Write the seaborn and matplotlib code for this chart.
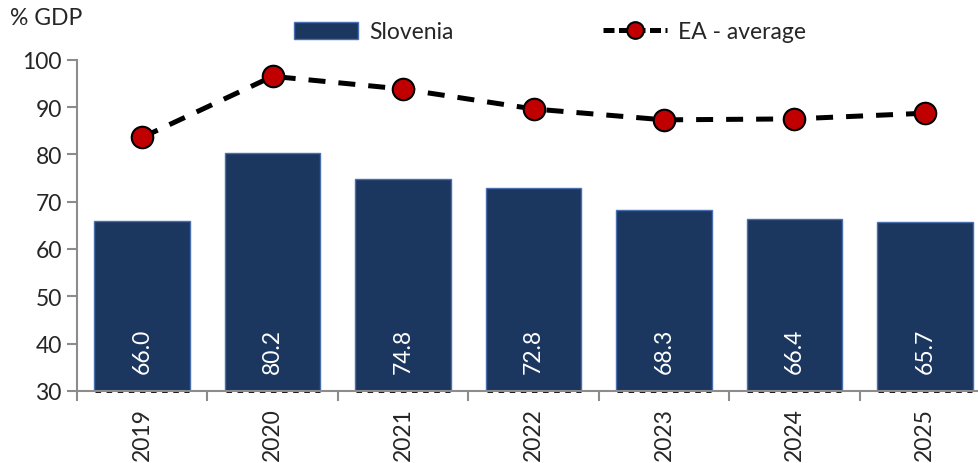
import matplotlib
matplotlib.use("Agg")
import matplotlib.pyplot as plt
import seaborn as sns
import pandas as pd
from matplotlib.patches import Patch
from matplotlib.lines import Line2D

# Data
years = ['2019', '2020', '2021', '2022', '2023', '2024', '2025']
slovenia = [66.0, 80.2, 74.8, 72.8, 68.3, 66.4, 65.7]
ea_average = [83.6, 96.5, 93.8, 89.6, 87.3, 87.5, 88.7]

df = pd.DataFrame({'year': years, 'Slovenia': slovenia, 'EA - average': ea_average})

sns.set_theme(style="white")
plt.rcParams['font.family'] = ['Lato', 'DejaVu Sans']

bar_color = '#1b365f'
red = '#c00000'
grey = '#8c8c8c'
fs = 16.5

fig = plt.figure(figsize=(9.79, 4.64), dpi=100)
ax = fig.add_axes([0.0787, 0.1556, 1.0113 - 0.0787, 0.869 - 0.1556])

sns.barplot(data=df, x='year', y='Slovenia', color=bar_color, width=0.733,
            edgecolor='#4a6fb0', linewidth=1.0, saturation=1, ax=ax, zorder=2)

sns.pointplot(data=df, x='year', y='EA - average', color='black',
              linestyles='--', markers='o', errorbar=None, ax=ax)
for ln in ax.lines:
    if len(ln.get_xdata()) == len(years):
        ln.set_linewidth(3.6)
        ln.set_dashes((3.4, 2.6))
        ln.set_marker('o')
        ln.set_markersize(15.5)
        ln.set_markerfacecolor(red)
        ln.set_markeredgecolor('black')
        ln.set_markeredgewidth(1.5)
        ln.set_zorder(4)

# value labels inside the bar bases
for i, v in enumerate(slovenia):
    ax.text(i, 38.5, f"{v:.1f}", rotation=90, color='white', ha='center',
            va='center', fontsize=fs, zorder=5)
    ax.hlines(30, i - 0.36, i + 0.36, colors='black', linestyles=(0, (2, 2)),
              linewidth=2, clip_on=False, zorder=1)

ax.set_ylim(30, 100)
ax.set_xlim(-0.5, len(years) - 0.5)
ax.set_yticks(range(30, 101, 10))
ax.set_xticks([i - 0.5 for i in range(len(years) + 1)])
ax.set_xticklabels([])
ax.set_xticks(range(len(years)), minor=True)
ax.set_xticklabels(years, minor=True, rotation=90)
ax.tick_params(axis='x', which='major', direction='out', length=7, width=1.5,
               color=grey, bottom=True)
ax.tick_params(axis='x', which='minor', length=0, pad=12, labelsize=fs,
               bottom=True)
ax.tick_params(axis='y', direction='out', length=7, width=1.5, color=grey,
               labelsize=fs, left=True, pad=4)
ax.set_xlabel('')
ax.set_ylabel('')
for s in ['top', 'right']:
    ax.spines[s].set_visible(False)
for s in ['left', 'bottom']:
    ax.spines[s].set_color(grey)
    ax.spines[s].set_linewidth(1.5)
    ax.spines[s].set_zorder(3)

fig.text(0.01, 0.96, '% GDP', fontsize=fs, ha='left', va='center')

handles = [Patch(facecolor=bar_color, edgecolor='#4a6fb0', label='Slovenia'),
           Line2D([0], [0], color='black', linewidth=3.6, dashes=(2.2, 0.9),
                  marker='o', markersize=12, markerfacecolor=red,
                  markeredgecolor='black', markeredgewidth=1.5,
                  label='EA - average')]
fig.legend(handles=handles, loc='center', bbox_to_anchor=(0.562, 0.929),
           ncol=2, frameon=False, fontsize=fs, handlelength=2.8,
           handleheight=0.75, columnspacing=6.5, handletextpad=0.5)

fig.savefig('out.png', dpi=100)
